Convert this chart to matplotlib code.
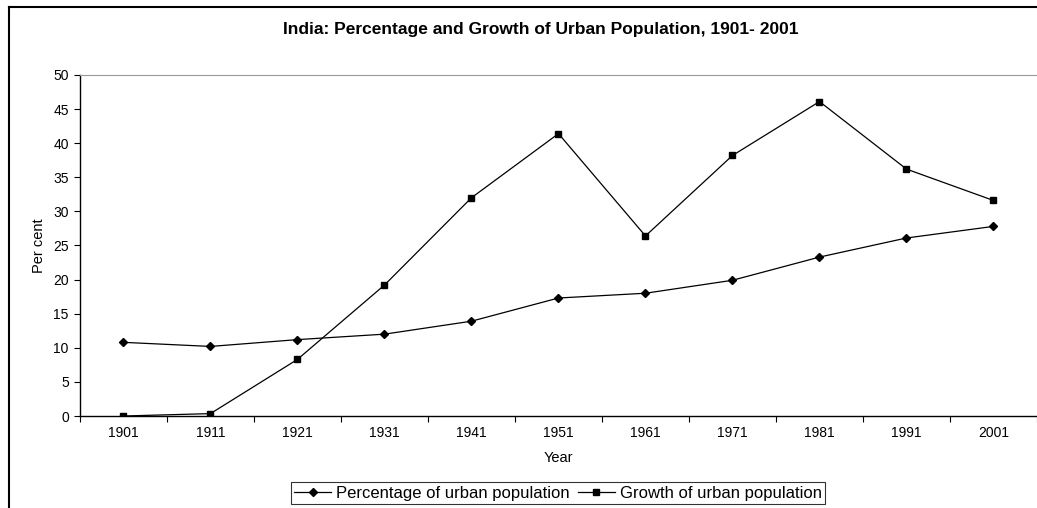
import matplotlib
matplotlib.use("Agg")
import matplotlib.pyplot as plt
from matplotlib.lines import Line2D

plt.rcParams['font.family'] = ['Liberation Sans', 'DejaVu Sans']

years = ['1901', '1911', '1921', '1931', '1941', '1951', '1961', '1971', '1981', '1991', '2001']
pct_urban = [10.8, 10.2, 11.2, 12.0, 13.9, 17.3, 18.0, 19.9, 23.3, 26.1, 27.8]
growth_urban = [0.0, 0.35, 8.3, 19.2, 32.0, 41.4, 26.4, 38.2, 46.1, 36.2, 31.6]

fig = plt.figure(figsize=(10.37, 5.08), dpi=100)
ax = fig.add_axes([0.0771, 0.1811, 0.9229, 0.6713])

x = list(range(len(years)))
ax.plot(x, pct_urban, color='black', lw=0.9, marker='D', markersize=4,
        label='Percentage of urban population')
ax.plot(x, growth_urban, color='black', lw=0.9, marker='s', markersize=5,
        label='Growth of urban population')

ax.set_xlim(-0.5, len(years) - 0.5)
ax.set_ylim(0, 50)
ax.set_yticks(range(0, 51, 5))
ax.tick_params(axis='y', labelsize=10, length=4, width=0.8, pad=4)

ax.set_xticks(x)
ax.set_xticklabels(years)
ax.set_xticks([i - 0.5 for i in range(len(years) + 1)], minor=True)
ax.tick_params(axis='x', which='major', length=0, labelsize=10, pad=7)
ax.tick_params(axis='x', which='minor', length=4, width=0.8)

ax.spines['right'].set_visible(False)
ax.spines['top'].set_color('#999999')
ax.spines['left'].set_linewidth(1.0)
ax.spines['bottom'].set_linewidth(1.0)

fig.text(0.521, 0.941, 'India: Percentage and Growth of Urban Population, 1901- 2001',
         fontsize=12.5, fontweight='bold', ha='center', va='center')
ax.set_xlabel('Year', fontsize=10.5, labelpad=8)
ax.set_ylabel('Per cent', fontsize=10.5, labelpad=5)

leg = fig.legend(loc='center', bbox_to_anchor=(0.538, 0.029), ncol=2,
                 fontsize=12, frameon=True, fancybox=False, handlelength=2.2,
                 handletextpad=0.3, columnspacing=0.5, borderpad=0.2,
                 borderaxespad=0)
leg.get_frame().set_edgecolor('black')
leg.get_frame().set_linewidth(0.8)

# outer chart border (left and top visible)
fig.add_artist(Line2D([0.0087, 0.0087], [0, 0.986], transform=fig.transFigure,
                      color='black', lw=1.5))
fig.add_artist(Line2D([0.0087, 1.0], [0.986, 0.986], transform=fig.transFigure,
                      color='black', lw=1.5))

fig.savefig('out.png', dpi=100)
